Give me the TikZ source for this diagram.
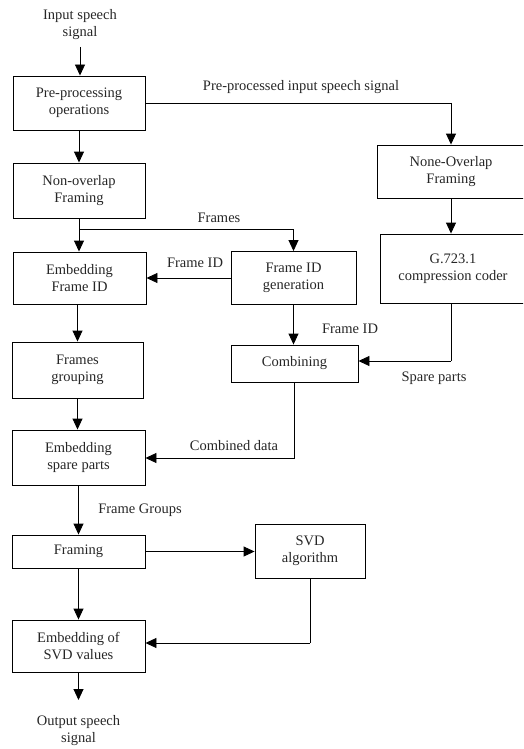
\documentclass[tikz,border=0pt]{standalone}
\usepackage{fontspec}
\setmainfont{Liberation Serif}
\usetikzlibrary{arrows.meta,calc}
\begin{document}
\begin{tikzpicture}[x=1pt,y=-1pt,
  font=\fontsize{14.5}{17}\selectfont,
  box/.style={draw=black,line width=0.9pt,align=center,inner sep=0pt,text=black!85},
  lbl/.style={inner sep=0pt,text=black!85,align=center},
  ln/.style={line width=0.9pt,draw=black},
  arr/.style={ln,-{Triangle[width=10pt,length=11pt]}}]
\useasboundingbox (0,0) rectangle (523,749);
\clip (0,0) rectangle (523,749);
% boxes
\node[box,minimum width=132pt,minimum height=54pt] (pre) at (79,103) {Pre-processing\\operations};
\node[box,minimum width=132pt,minimum height=55pt] (nonov) at (79,190.5) {Non-overlap\\Framing};
\node[box,minimum width=148pt,minimum height=53pt] (none) at (451,171.5) {None-Overlap\\Framing};
\node[box,minimum width=146pt,minimum height=69pt] (g723) at (453,268.5) {G.723.1\\compression coder};
\node[box,minimum width=133pt,minimum height=52pt] (embid) at (79.5,278) {Embedding\\Frame ID};
\node[box,minimum width=125pt,minimum height=53pt] (fidgen) at (293.5,278) {Frame ID\\generation};
\node[box,minimum width=127pt,minimum height=37pt] (comb) at (294.5,363.5) {Combining};
\node[box,minimum width=131pt,minimum height=56pt] (fgroup) at (77.5,370) {Frames\\grouping};
\node[box,minimum width=133pt,minimum height=55pt] (embsp) at (78.5,457.5) {Embedding\\spare parts};
\node[box,minimum width=133pt,minimum height=33pt] (framing) at (78.5,551.5) {Framing};
\node[box,minimum width=110pt,minimum height=54pt] (svd) at (310,551) {SVD\\algorithm};
\node[box,minimum width=133pt,minimum height=52pt] (embsvd) at (78.5,646) {Embedding of\\SVD values};
% terminal texts
\node[lbl] (in) at (80,25) {Input speech\\signal};
\node[lbl] (out) at (78.5,731) {Output speech\\signal};
% labels
\node[lbl] (l1) at (301,87) {Pre-processed input speech signal};
\node[lbl] (l2) at (219,218) {Frames};
\node[lbl] (l3) at (195,263) {Frame ID};
\node[lbl] (l4) at (350,329) {Frame ID};
\node[lbl] (l5) at (434,378) {Spare parts};
\node[lbl] (l6) at (234,446) {Combined data};
\node[lbl] (l7) at (140,510) {Frame Groups};
% coordinates
\coordinate (fr) at ($(nonov.south)+(0,11)$);
\coordinate (pp) at (451,103);
\coordinate (sp) at (451,361);
\coordinate (cd) at (294.5,458);
\coordinate (sv) at (310,643);
\coordinate (ins) at (in.south |- 0,47);
\coordinate (outn) at (78.5,700);
% connectors
\draw[arr] (ins) -- (ins |- pre.north);
\draw[arr] (pre.south) -- (nonov.north);
\draw[ln] (pre.east) -- (pp);
\draw[arr] (pp) -- (pp |- none.north);
\draw[arr] (none.south -| pp) -- (pp |- g723.north);
\draw[arr] (nonov.south) -- (embid.north -| nonov.south);
\draw[arr] (fr) -| (fidgen.north);
\draw[arr] (fidgen.west) -- (fidgen.west -| embid.east);
\draw[arr] (fidgen.south) -- (fidgen.south |- comb.north);
\draw[ln] (g723.south -| sp) -- (sp);
\draw[arr] (sp) -- (sp -| comb.east);
\draw[ln] (comb.south) -- (cd);
\draw[arr] (cd) -- (cd -| embsp.east);
\draw[arr] (embid.south -| fgroup.north) -- (fgroup.north);
\draw[arr] (fgroup.south) -- (fgroup.south |- embsp.north);
\draw[arr] (embsp.south) -- (framing.north);
\draw[arr] (framing.east) -- (framing.east -| svd.west);
\draw[ln] (svd.south) -- (sv);
\draw[arr] (sv) -- (sv -| embsvd.east);
\draw[arr] (framing.south) -- (embsvd.north);
\draw[arr] (embsvd.south) -- (outn);
\end{tikzpicture}
\end{document}
